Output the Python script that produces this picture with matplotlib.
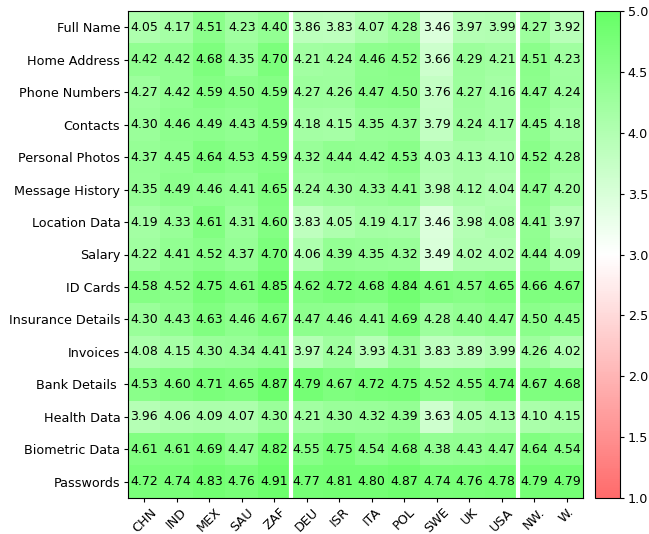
import numpy as np
import matplotlib
matplotlib.use('Agg')
import matplotlib.pyplot as plt
from matplotlib.colors import LinearSegmentedColormap

data_types = ['Full Name', 'Home Address', 'Phone Numbers', 'Contacts', 'Personal Photos',
              'Message History', 'Location Data', 'Salary', 'ID Cards', 'Insurance Details',
              'Invoices', 'Bank Details ', 'Health Data', 'Biometric Data', 'Passwords']
countries = ['CHN', 'IND', 'MEX', 'SAU', 'ZAF', 'DEU', 'ISR', 'ITA', 'POL', 'SWE', 'UK', 'USA', 'NW.', 'W.']

CHN = [4.05, 4.42, 4.27, 4.30, 4.37, 4.35, 4.19, 4.22, 4.58, 4.30, 4.08, 4.53, 3.96, 4.61, 4.72]
IND = [4.17, 4.42, 4.42, 4.46, 4.45, 4.49, 4.33, 4.41, 4.52, 4.43, 4.15, 4.60, 4.06, 4.61, 4.74]
MEX = [4.51, 4.68, 4.59, 4.49, 4.64, 4.46, 4.61, 4.52, 4.75, 4.63, 4.30, 4.71, 4.09, 4.69, 4.83]
SAU = [4.23, 4.35, 4.50, 4.43, 4.53, 4.41, 4.31, 4.37, 4.61, 4.46, 4.34, 4.65, 4.07, 4.47, 4.76]
ZAF = [4.40, 4.70, 4.59, 4.59, 4.59, 4.65, 4.60, 4.70, 4.85, 4.67, 4.41, 4.87, 4.30, 4.82, 4.91]
DEU = [3.86, 4.21, 4.27, 4.18, 4.32, 4.24, 3.83, 4.06, 4.62, 4.47, 3.97, 4.79, 4.21, 4.55, 4.77]
ISR = [3.83, 4.24, 4.26, 4.15, 4.44, 4.30, 4.05, 4.39, 4.72, 4.46, 4.24, 4.67, 4.30, 4.75, 4.81]
ITA = [4.07, 4.46, 4.47, 4.35, 4.42, 4.33, 4.19, 4.35, 4.68, 4.41, 3.93, 4.72, 4.32, 4.54, 4.80]
POL = [4.28, 4.52, 4.50, 4.37, 4.53, 4.41, 4.17, 4.32, 4.84, 4.69, 4.31, 4.75, 4.39, 4.68, 4.87]
SWE = [3.46, 3.66, 3.76, 3.79, 4.03, 3.98, 3.46, 3.49, 4.61, 4.28, 3.83, 4.52, 3.63, 4.38, 4.74]
UK = [3.97, 4.29, 4.27, 4.24, 4.13, 4.12, 3.98, 4.02, 4.57, 4.40, 3.89, 4.55, 4.05, 4.43, 4.76]
USA = [3.99, 4.21, 4.16, 4.17, 4.10, 4.04, 4.08, 4.02, 4.65, 4.47, 3.99, 4.74, 4.13, 4.47, 4.78]
NW = [4.27, 4.51, 4.47, 4.45, 4.52, 4.47, 4.41, 4.44, 4.66, 4.50, 4.26, 4.67, 4.10, 4.64, 4.79]
W = [3.92, 4.23, 4.24, 4.18, 4.28, 4.20, 3.97, 4.09, 4.67, 4.45, 4.02, 4.68, 4.15, 4.54, 4.79]

matrix = np.array([CHN, IND, MEX, SAU, ZAF, DEU, ISR, ITA, POL, SWE, UK, USA, NW, W]).T

cmap = LinearSegmentedColormap.from_list('rwg', ['#ff6b6b', '#ffffff', '#66ff66'])

fig = plt.figure(figsize=(6.49, 5.34), dpi=100)
ax = fig.add_axes([128 / 649, 36 / 534, 455 / 649, 487 / 534])
cax = fig.add_axes([595 / 649, 36 / 534, 25 / 649, 487 / 534])

im = ax.imshow(matrix, cmap=cmap, vmin=1, vmax=5, aspect='auto')
for i in range(matrix.shape[0]):
    for j in range(matrix.shape[1]):
        ax.text(j, i, f'{matrix[i, j]:.2f}', ha='center', va='center', fontsize=9, color='black')

# separators between country groups
for x in [4.5, 11.5]:
    ax.axvline(x, color='white', lw=3)

ax.set_xticks(range(len(countries)))
ax.set_xticklabels(countries, rotation=45)
ax.set_yticks(range(len(data_types)))
ax.set_yticklabels(data_types)
ax.tick_params(labelsize=9.2, length=3, pad=2.5)

cb = fig.colorbar(im, cax=cax)
cb.set_ticks(np.arange(1, 5.01, 0.5))
cb.ax.tick_params(labelsize=9.2, length=3, pad=2.5)

fig.savefig('out.png', dpi=100)
